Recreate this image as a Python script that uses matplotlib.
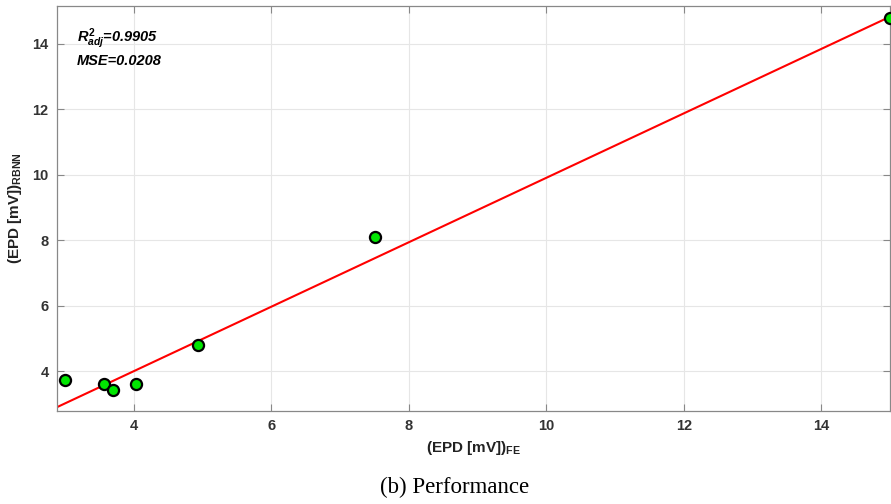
import numpy as np
import matplotlib
matplotlib.use('Agg')
import matplotlib.pyplot as plt

plt.rcParams['font.family'] = ['Liberation Sans', 'DejaVu Sans']
plt.rcParams['mathtext.fontset'] = 'custom'
plt.rcParams['mathtext.rm'] = 'Liberation Sans:bold'
plt.rcParams['mathtext.it'] = 'Liberation Sans:bold:italic'
plt.rcParams['mathtext.bf'] = 'Liberation Sans:bold'

# EPD values, finite element vs RBNN prediction
epd_fe = [2.99, 3.57, 3.70, 4.03, 4.93, 7.50, 15.0]
epd_rbnn = [3.72, 3.61, 3.43, 3.59, 4.80, 8.09, 14.77]

# fitted line coefficients
fit_slope = 0.984
fit_intercept = 0.064

x_ticks = [4, 6, 8, 10, 12, 14]
y_ticks = [4, 6, 8, 10, 12, 14]
r2_adj = '0.9905'
mse = '0.0208'

fig = plt.figure(figsize=(8.91, 5.04), dpi=100)
ax = fig.add_axes([0.064, 0.1845, 0.935, 0.8036])

xlim = (2.88, 15.0)
xl = np.array(xlim)
ax.plot(xl, fit_slope * xl + fit_intercept, color='red', linewidth=1.5, zorder=2)
ax.plot(epd_fe, epd_rbnn, 'o', markerfacecolor=(0, 0.9, 0), markeredgecolor='black',
        markeredgewidth=1.6, markersize=8, zorder=3, clip_on=False)

ax.set_xlim(xlim)
ax.set_ylim(2.78, 15.15)
ax.set_xticks(x_ticks)
ax.set_yticks(y_ticks)
ax.grid(True, color='#e6e6e6', linewidth=0.8)
ax.set_axisbelow(True)
ax.tick_params(direction='in', length=5, width=0.8, color='#888888',
               top=True, right=True, labelsize=10.5, labelcolor='#333333', pad=6)
for lab in ax.get_xticklabels() + ax.get_yticklabels():
    lab.set_fontweight('bold')
for s in ax.spines.values():
    s.set_color('#888888')
    s.set_linewidth(0.9)

ax.set_xlabel(r'(EPD [mV])$_{\mathrm{FE}}$', fontsize=11, fontweight='bold',
              color='#222222', labelpad=4)
ax.set_ylabel(r'(EPD [mV])$_{\mathrm{RBNN}}$', fontsize=11, fontweight='bold',
              color='#222222', labelpad=6)

ax.text(0.024, 0.918, r'$R^{2}_{adj}$=' + r2_adj, transform=ax.transAxes,
        fontsize=10.5, fontweight='bold', style='italic', va='center', ha='left')
ax.text(0.024, 0.863, 'MSE=' + mse, transform=ax.transAxes,
        fontsize=10.5, fontweight='bold', style='italic', va='center', ha='left')

fig.text(0.51, 0.032, '(b) Performance', fontsize=16.5, family='Liberation Serif',
         ha='center', va='center')

fig.savefig('out.png', dpi=100)
